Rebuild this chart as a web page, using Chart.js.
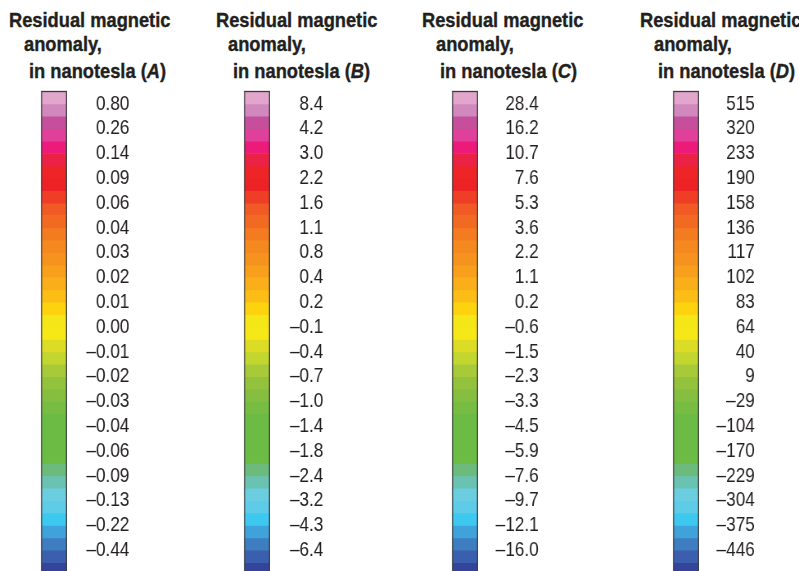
<!DOCTYPE html>
<html><head><meta charset="utf-8">
<script src="https://cdn.jsdelivr.net/npm/chart.js@4"></script>
<style>
html,body{margin:0;padding:0;width:799px;height:571px;overflow:hidden;background:#fff;}
.t{position:absolute;white-space:nowrap;font-family:'Liberation Sans',Arial,sans-serif;font-weight:bold;font-size:21px;line-height:21px;color:#231f20;transform:scaleX(0.87);transform-origin:0 0;-webkit-text-stroke:0.4px #231f20;}
canvas{position:absolute;transform-origin:0 0;}
</style></head><body>
<div class="t" style="left:9px;top:9px">Residual magnetic</div>
<div class="t" style="left:24px;top:33px">anomaly,</div>
<div class="t" style="left:29px;top:60px">in nanotesla (<i>A</i>)</div>
<div class="t" style="left:216px;top:9px">Residual magnetic</div>
<div class="t" style="left:228px;top:33px">anomaly,</div>
<div class="t" style="left:233px;top:60px">in nanotesla (<i>B</i>)</div>
<div class="t" style="left:422px;top:9px">Residual magnetic</div>
<div class="t" style="left:436px;top:33px">anomaly,</div>
<div class="t" style="left:440px;top:60px">in nanotesla (<i>C</i>)</div>
<div class="t" style="left:640px;top:9px">Residual magnetic</div>
<div class="t" style="left:654px;top:33px">anomaly,</div>
<div class="t" style="left:658px;top:60px">in nanotesla (<i>D</i>)</div>
<canvas id="cA"></canvas><canvas id="cB"></canvas><canvas id="cC"></canvas><canvas id="cD"></canvas>
<script>
// Colour classes, top (highest) to bottom (lowest)
const colors = [
  '#e2a6cd','#d088bd','#c64f9c','#e0409a','#ec1a78','#ec2146','#ee2428','#ed2224',
  '#ef3d26','#f15a24','#f26a22','#f47c20','#f5891f','#f6921e','#f8a01c','#faae19',
  '#fcbd15','#fdd20e','#f5e617','#f6e816','#dcdc27','#c3d52f','#a8ca38','#93c33c',
  '#86bf3f','#77bc43','#6bbb45','#6bbb45','#6bbb45','#6bbb45','#6cbb7c','#6ac3b2',
  '#6bcde0','#5ecbe7','#3dc8f0','#3fa2da','#3e7dc0','#3b5fae','#34449b'
];
// each colour class occupies one equal step of the bar
const classSize = colors.map(() => 1);
// class boundaries that carry a label (every second boundary)
const labelBoundaries = [1,3,5,7,9,11,13,15,17,19,21,23,25,27,29,31,33,35,37];

const labelsA = ['0.80','0.26','0.14','0.09','0.06','0.04','0.03','0.02','0.01','0.00','–0.01','–0.02','–0.03','–0.04','–0.06','–0.09','–0.13','–0.22','–0.44'];
const labelsB = ['8.4','4.2','3.0','2.2','1.6','1.1','0.8','0.4','0.2','–0.1','–0.4','–0.7','–1.0','–1.4','–1.8','–2.4','–3.2','–4.3','–6.4'];
const labelsC = ['28.4','16.2','10.7','7.6','5.3','3.6','2.2','1.1','0.2','–0.6','–1.5','–2.3','–3.3','–4.5','–5.9','–7.6','–9.7','–12.1','–16.0'];
const labelsD = ['515','320','233','190','158','136','117','102','83','64','40','9','–29','–104','–170','–229','–304','–375','–446'];

const FAMILY = "'Liberation Sans', Arial, sans-serif";
const FSIZE = 21;
const SX = 0.82;              // horizontal condensing of the whole legend canvas
const BARW = 25, PADL = 1.5, PADT = 6.5, CH = 490, CTOP = 85;

const frame = {
  id: 'frame',
  afterDatasetsDraw(chart) {
    const {ctx, chartArea: a} = chart;
    ctx.save();
    ctx.strokeStyle = '#3a3a3a';
    ctx.lineWidth = 1.3;
    ctx.strokeRect(a.left, a.top, a.right - a.left, a.bottom - a.top);
    ctx.restore();
  }
};

function makeChart(id, tickLabels, barLeft, labelRight) {
  const cv = document.getElementById(id);
  const left = barLeft - 1;
  const wInt = Math.round((labelRight - left) / SX);
  cv.width = wInt; cv.height = CH;
  cv.style.width = wInt + 'px'; cv.style.height = CH + 'px';
  cv.style.left = left + 'px';
  cv.style.top = CTOP + 'px';
  cv.style.transform = 'scaleX(' + SX + ')';
  const padL = PADL / SX, barW = BARW / SX;
  const datasets = colors.map((c, i) => ({
    data: [classSize[i]], backgroundColor: c, borderWidth: 0,
    barPercentage: 1, categoryPercentage: 1, stack: 's'
  }));
  return new Chart(cv, {
    type: 'bar',
    data: {labels: [''], datasets},
    options: {
      responsive: false, animation: false, devicePixelRatio: 1,
      layout: {padding: {left: padL, top: PADT, right: 0, bottom: 0}},
      plugins: {legend: {display: false}, tooltip: {enabled: false}, title: {display: false}},
      scales: {
        x: {display: false, stacked: true},
        y: {
          stacked: true, position: 'right', reverse: true, min: 0, max: colors.length,
          grid: {display: false, drawTicks: false, tickLength: 0},
          border: {display: false},
          afterBuildTicks: s => { s.ticks = labelBoundaries.map(v => ({value: v})); },
          afterFit: s => { s.width = wInt - padL - barW; s.paddingTop = 0; s.paddingBottom = 0; },
          ticks: {
            autoSkip: false, crossAlign: 'far', padding: 0, color: '#231f20',
            font: {family: FAMILY, size: FSIZE},
            callback: (v, i) => tickLabels[i]
          }
        }
      }
    },
    plugins: [frame]
  });
}

makeChart('cA', labelsA, 41, 129);
makeChart('cB', labelsB, 244, 323);
makeChart('cC', labelsC, 452, 539);
makeChart('cD', labelsD, 673, 755);
</script>
</body></html>
